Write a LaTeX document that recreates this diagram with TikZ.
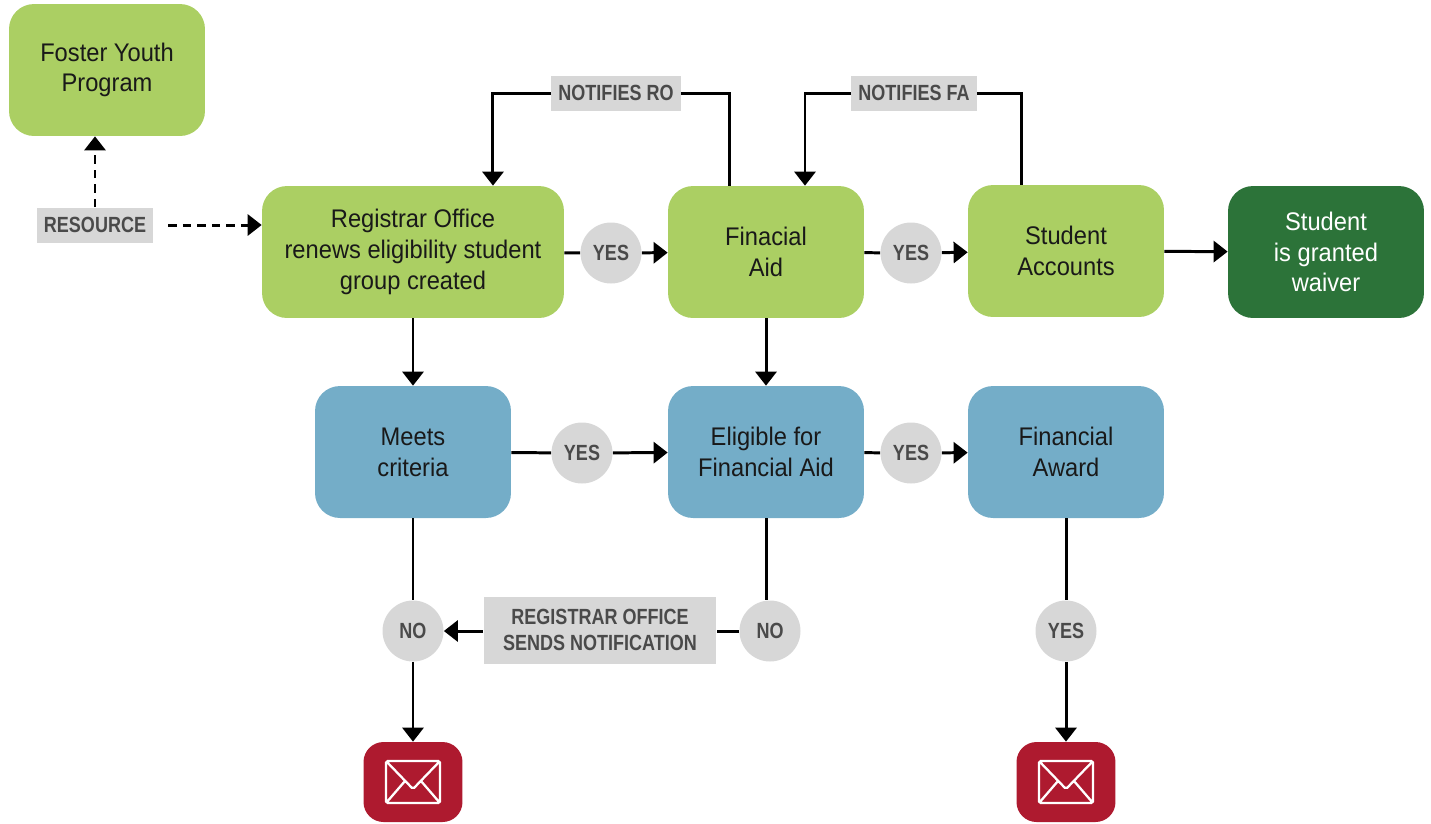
\documentclass[tikz,border=0pt]{standalone}
\usepackage{fontspec}
\setmainfont{Liberation Sans}
\newfontfamily\boxfont[FakeStretch=0.93]{Liberation Sans}
\newfontfamily\tagfont[FakeStretch=0.82]{Liberation Sans}
\usetikzlibrary{arrows.meta}
\definecolor{leafgreen}{HTML}{ABCF63}
\definecolor{darkgreen}{HTML}{2C7339}
\definecolor{steelblue}{HTML}{74ADC8}
\definecolor{taggrey}{HTML}{D7D7D7}
\definecolor{tagtext}{HTML}{4A4A4A}
\definecolor{mailred}{HTML}{AE1A2F}

\begin{document}
\begin{tikzpicture}
      [x=0.02cm, y=-0.02cm,
      every node/.style={align=center},
      box/.style={rounded corners=0.5cm, minimum width=3.92cm, minimum height=2.64cm,
        fill=leafgreen, text=black!90, font=\boxfont\fontsize{14.5}{17.5}\selectfont},
      bluebox/.style={box, fill=steelblue},
      tag/.style={fill=taggrey, text=tagtext, inner xsep=4pt, minimum height=0.7cm,
        font=\tagfont\bfseries\fontsize{12.5}{14.5}\selectfont},
      dot/.style={circle, fill=taggrey, text=tagtext, minimum size=1.22cm, inner sep=0pt,
        font=\tagfont\bfseries\fontsize{12.5}{14.5}\selectfont},
      mail/.style={fill=mailred, rounded corners=0.4cm, minimum width=1.98cm, minimum height=1.6cm,
        path picture={\draw[white, line width=1.3pt, rounded corners=1pt,
          shift={(path picture bounding box.center)}]
          (-27,-21) rectangle (27,21) (-27,-21) -- (0,7) -- (27,-21)
          (-27,21) -- (-8,-1) (27,21) -- (8,-1);}},
      line/.style={line width=1.7pt},
      flow/.style={line, -{Triangle[width=12pt,length=8pt]}},
      ]
      \useasboundingbox (0,0) rectangle (1431,823);

      % top row
      \node[box] (fyp) at (107,70) {Foster Youth\\Program};
      \node[tag] (res) at (95,225) {RESOURCE};
      \node[box, minimum width=6.04cm] (reg) at (413,252) {Registrar Office\\renews eligibility student\\group created};
      \node[dot] (y1) at (611,253) {YES};
      \node[box] (fa) at (766,252) {Finacial\\Aid};
      \node[dot] (y2) at (911,253) {YES};
      \node[box] (sa) at (1066,251) {Student\\Accounts};
      \node[box, fill=darkgreen, text=white] (waiver) at (1326,252) {Student\\is granted\\waiver};
      \node[tag] (nro) at (616,93) {NOTIFIES RO};
      \node[tag] (nfa) at (914,93) {NOTIFIES FA};

      % middle row
      \node[bluebox] (meets) at (413,452) {Meets\\criteria};
      \node[dot] (y3) at (582,453) {YES};
      \node[bluebox] (elig) at (766,452) {Eligible for\\Financial Aid};
      \node[dot] (y4) at (911,453) {YES};
      \node[bluebox] (award) at (1066,452) {Financial\\Award};

      % bottom row
      \node[dot] (no1) at (413,631) {NO};
      \node[tag, minimum width=4.66cm, minimum height=1.34cm] (rosn) at (600,630) {REGISTRAR OFFICE\\SENDS NOTIFICATION};
      \node[dot] (no2) at (770,631) {NO};
      \node[dot] (y5) at (1066,631) {YES};
      \node[mail] (mail1) at (413,782) {};
      \node[mail] (mail2) at (1066,782) {};

      % connectors
      \draw[flow, dashed, dash pattern=on 0.17cm off 0.12cm] (res.north) -- (res.north |- fyp.south);
      \draw[flow, dashed, dash pattern=on 0.17cm off 0.12cm] ([xshift=0.3cm]res.east) -- (res.east -| reg.west);
      \draw[line] (reg) -- (y1);
      \draw[flow] (y1) -- (fa);
      \draw[line] (fa) -- (y2);
      \draw[flow] (y2) -- (sa);
      \draw[flow] (sa) -- (waiver);
      \draw[flow] (nro.west) -| ([xshift=1.6cm]reg.north);
      \draw[line] (nro.east) -| ([xshift=-0.74cm]fa.north);
      \draw[flow] (nfa.west) -| ([xshift=0.78cm]fa.north);
      \draw[line] (nfa.east) -| ([xshift=-0.9cm]sa.north);
      \draw[flow] (reg) -- (meets);
      \draw[flow] (fa) -- (elig);
      \draw[line] (meets) -- (y3);
      \draw[flow] (y3) -- (elig);
      \draw[line] (elig) -- (y4);
      \draw[flow] (y4) -- (award);
      \draw[line] (meets) -- (no1);
      \draw[flow] (no1) -- (mail1);
      \draw[line] (elig.south) -- (elig.south |- no2.north);
      \draw[line] (no2) -- (no2 -| rosn.east);
      \draw[flow] (no1 -| rosn.west) -- (no1);
      \draw[line] (award) -- (y5);
      \draw[flow] (y5) -- (mail2);
\end{tikzpicture}
\end{document}
